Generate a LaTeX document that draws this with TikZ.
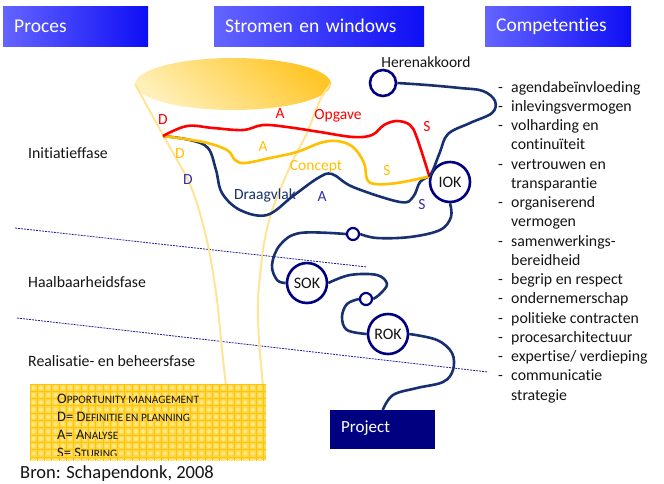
\documentclass[tikz,border=0pt]{standalone}
\usepackage{fontspec}
\setmainfont{Carlito}[Ligatures=NoCommon]

\definecolor{hdrA}{RGB}{100,100,255}
\definecolor{hdrB}{RGB}{14,14,245}
\definecolor{ring}{RGB}{0,0,128}
\definecolor{flow}{RGB}{24,48,112}
\definecolor{lblue}{RGB}{48,48,170}
\definecolor{opg}{RGB}{255,0,0}
\definecolor{con}{RGB}{255,192,0}
\definecolor{funnel}{RGB}{255,228,150}
\definecolor{goldA}{RGB}{255,240,185}
\definecolor{goldB}{RGB}{255,198,40}
\definecolor{boxfill}{RGB}{255,214,70}
\definecolor{boxlite}{RGB}{255,230,128}
\definecolor{boxgrid}{RGB}{252,198,10}
\definecolor{phaseline}{RGB}{30,30,150}
\definecolor{txt}{RGB}{20,20,20}

\newcommand\bigsc[1]{{\fontsize{14.5}{14}\selectfont #1}}
\newcommand\lilsc[1]{{\fontsize{11.3}{11}\selectfont #1}}

\begin{document}
\begin{tikzpicture}[x=1pt,y=-1pt,
  hdr/.style={shade, left color=hdrA, right color=hdrB, text=white,
    font=\fontsize{19.5}{22}\selectfont, anchor=north west, minimum height=40,
    inner xsep=11, align=left},
  lbl/.style={anchor=base west, inner sep=0, font=\fontsize{15.8}{17}\selectfont, text=txt},
  comp/.style={anchor=base west, inner sep=0, font=\fontsize{15.8}{17}\selectfont, text=txt},
  tag/.style={anchor=base, inner sep=0, font=\fontsize{15.5}{16}\selectfont},
  ok/.style={circle, draw=ring, line width=2.6, fill=white, minimum size=40, inner sep=0,
    font=\fontsize{16}{16}\selectfont, text=txt},
  knot/.style={circle, draw=ring, line width=2.2, fill=white, minimum size=12, inner sep=0},
  funnelline/.style={draw=funnel, line width=2},
  pathline/.style={line width=2.6, smooth, tension=0.6},
  phase/.style={draw=phaseline, line width=0.8, dash pattern=on 2pt off 1pt},
]
\useasboundingbox (0,0) rectangle (664,483);

% header bars
\node[hdr, minimum width=145, text width=123] (hproc) at (3,6) {Proces};
\node[hdr, minimum width=210, text width=188] (hstrom) at (214,6) {Stromen en windows};
\node[hdr, minimum width=146, text width=124] (hcomp) at (485,6) {Competenties};

% phase separators
\coordinate (p1a) at (15,228); \coordinate (p1b) at (367,267);
\coordinate (p2a) at (17,318); \coordinate (p2b) at (488,372);
\draw[phase] (p1a) -- (p1b);
\draw[phase] (p2a) -- (p2b);

% phase labels
\node[lbl] (ini) at (28,158) {Initiatieffase};
\node[lbl] (haal) at (28,287) {Haalbaarheidsfase};
\node[lbl] (real) at (28,366) {Realisatie- en beheersfase};

% funnel
\shade[top color=goldB, bottom color=goldA, shading angle=-40] (233,84) ellipse [x radius=98, y radius=26];
\draw[funnelline] plot[smooth] coordinates {(135,84) (163,135) (188,180) (199,210) (209,250) (217,300) (222,350) (226,386)};
\draw[funnelline] plot[smooth] coordinates {(331,84) (320,100) (307,133) (293,160) (280,190) (270,217) (263,250) (258,300) (259,340) (263,386)};

% legend box with tile pattern
\fill[boxfill] (30,384) rectangle (266,460);
\begin{scope}
\clip (30,384) rectangle (266,460);
\foreach \u in {0,...,32}{
  \foreach \v in {0,...,10}{
    \fill[boxlite] ({30+7.3*\u+3.65},{384+7.3*\v+3.65}) circle (2.2pt);
  }
}
\draw[boxgrid, line width=1.0, step=7.3pt, shift={(30,384)}] (0,0) grid (240,80);
\end{scope}
\begin{scope}
\clip (30,384) rectangle (266,455);
\node[anchor=base west, inner sep=0, text=txt] (l1) at (57,403) {\bigsc{O}\lilsc{PPORTUNITY MANAGEMENT}};
\node[anchor=base west, inner sep=0, text=txt] (l2) at (57,421) {\bigsc{D= D}\lilsc{EFINITIE EN PLANNING}};
\node[anchor=base west, inner sep=0, text=txt] (l3) at (57,439) {\bigsc{A= A}\lilsc{NALYSE}};
\node[anchor=base west, inner sep=0, text=txt] (l4) at (57,457.5) {\bigsc{S= S}\lilsc{TURING}};
\end{scope}

\node[anchor=base west, inner sep=0, font=\fontsize{18.5}{20}\selectfont, text=txt] (bron) at (20,478) {Bron: Schapendonk, 2008};

% milestones
\node[ok] (iok) at (450,182) {IOK};
\node[ok] (sok) at (307,283) {SOK};
\node[ok] (rok) at (388,334) {ROK};
\node[circle, draw=ring, line width=2.6, fill=white, minimum size=26, inner sep=0] (her) at (383,83) {};
\node[anchor=base, inner sep=0, font=\fontsize{15.5}{16}\selectfont, text=txt] (hertxt) at (426,67) {Herenakkoord};
\node[knot] (k1) at (353,234) {};
\node[knot] (k2) at (366,299) {};
\node[fill=ring, minimum width=105, minimum height=39, anchor=north west, inner sep=0] (proj) at (330,410) {};
\node[anchor=base west, inner sep=0, text=white, font=\fontsize{17}{18}\selectfont] (projtxt) at (341,432) {Project};

% three streams from a common start
\coordinate (src) at (163,136);
\draw[flow, pathline] plot coordinates {(src) (190,140) (208,148) (216,170) (222,193) (240,210) (267,215) (293,196) (318,178) (332,174) (353,187) (400,202) (413,197) (420,182) (iok.165)};
\draw[con, pathline] plot coordinates {(src) (203,142) (227,150) (235,160) (245,163) (270,158) (297,152) (320,143) (337,141) (353,147) (364,163) (367,179) (375,184) (397,183) (iok.165)};
\draw[opg, pathline] plot coordinates {(src) (187,126) (213,128) (243,130) (263,125) (287,127) (320,132) (353,137) (372,135) (384,125) (397,121) (410,125) (417,138) (iok.165)};

% route from Herenakkoord down to Project
\draw[flow, pathline] plot coordinates {(her.east) (427,85) (460,88) (483,91) (495,101) (492,113) (470,123) (448,134) (440,152) (433,170) (iok.165)};
\draw[flow, pathline] plot coordinates {(iok.south) (451,217) (440,230) (410,237) (377,238) (k1.east)};
\draw[flow, pathline] plot coordinates {(k1.west) (300,233) (280,245) (272,265) (277,280) (sok.west)};
\draw[flow, pathline] plot coordinates {(sok.east) (350,275) (377,275) (387,284) (380,294) (k2.east)};
\draw[flow, pathline] plot coordinates {(k2.west) (347,304) (342,317) (347,330) (rok.west)};
\draw[flow, pathline] plot coordinates {(rok.east) (437,340) (452,353) (453,370) (443,382) (417,388) (393,395) (proj.north)};

% stream labels
\node[tag, text=opg] (rd) at (163,124) {D};
\node[tag, text=opg] (ra) at (280,118) {A};
\node[tag, text=opg] (ropg) at (338,119) {Opgave};
\node[tag, text=opg] (rs) at (427,131) {S};
\node[tag, text=con] (yd) at (180,158) {D};
\node[tag, text=con] (ya) at (263,151) {A};
\node[tag, text=con] (ycon) at (316,170) {Concept};
\node[tag, text=con] (ys) at (387,175) {S};
\node[tag, text=lblue] (nd) at (188,184) {D};
\node[tag, text=flow] (ndr) at (265,199) {Draagvlak};
\node[tag, text=lblue] (na) at (322,201) {A};
\node[tag, text=lblue] (ns) at (422,209) {S};

% competences
\foreach \d/\t [count=\i] in {1/agendabeïnvloeding, 1/inlevingsvermogen, 1/volharding en, 0/continuïteit,
  1/vertrouwen en, 0/transparantie, 1/organiserend, 0/vermogen, 1/samenwerkings-, 0/bereidheid,
  1/begrip en respect, 1/ondernemerschap, 1/politieke contracten, 1/procesarchitectuur,
  1/{expertise/ verdieping}, 1/communicatie, 0/strategie}{
  \node[comp] (c\i) at (511,{92+19.25*(\i-1)}) {\t};
  \ifnum\d=1 \node[comp] (m\i) at (498,{92+19.25*(\i-1)}) {-};\fi
}
\end{tikzpicture}
\end{document}
